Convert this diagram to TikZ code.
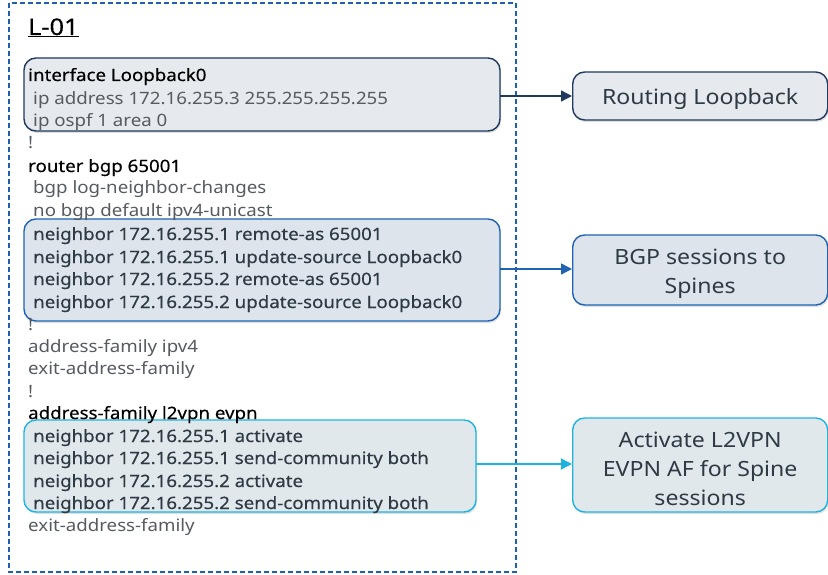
\documentclass[tikz,border=0pt]{standalone}
\usepackage{fontspec}
\setmainfont{Noto Sans}[FakeStretch=1.1]
\newfontfamily\medfont{Noto Sans}[FakeStretch=1.1,FakeBold=0.35]
\usetikzlibrary{shadows,arrows.meta}
\definecolor{dashblue}{HTML}{1F5FB0}
\definecolor{navy}{HTML}{1E3A5F}
\definecolor{midblue}{HTML}{1F63B3}
\definecolor{cyanb}{HTML}{1FB4E0}
\definecolor{fillA}{HTML}{E6E9ED}
\definecolor{fillB}{HTML}{DDE4EC}
\definecolor{fillC}{HTML}{E1E8EC}
\definecolor{txtgray}{HTML}{555B60}
\definecolor{txtdark}{HTML}{2E3A44}
\tikzset{
  cfg/.style={anchor=base west, inner sep=0pt, font=\fontsize{17}{19}\selectfont, text=txtgray},
  cfgk/.style={cfg, text=black, font=\medfont\fontsize{17}{19}\selectfont},
  cfgn/.style={cfg, text=txtdark, font=\medfont\fontsize{17}{19}\selectfont},
  hbox/.style={rounded corners=12pt, line width=1.4pt, drop shadow={opacity=0.25, shadow xshift=1pt, shadow yshift=-2pt}},
  rbox/.style={hbox, minimum width=255pt, anchor=west},
  rtxt/.style={align=center, inner sep=0pt, font=\fontsize{21}{29}\selectfont, text=txtdark},
  arr/.style={line width=1.4pt, -{Triangle[length=11pt,width=11pt]}}
}
\begin{document}
\begin{tikzpicture}[x=1pt,y=-1pt]
\useasboundingbox (0,0) rectangle (828,575);
% outer dashed frame
\draw[dashblue, line width=1.6pt, dash pattern=on 5pt off 3pt] (9,3) rectangle (516,572);
\node[anchor=base west, inner sep=0pt, font=\medfont\fontsize{23}{26}\selectfont] (title) at (28,35) {\underline{L-01}};
% highlight boxes
\draw[hbox, draw=navy, fill=fillA] (24,58) rectangle (500,131);
\coordinate (b1r) at (500,96);
\draw[hbox, draw=midblue, fill=fillB] (24,219) rectangle (500,321);
\coordinate (b2r) at (500,269);
\draw[hbox, draw=cyanb, fill=fillC] (24,420) rectangle (476,512);
\coordinate (b3r) at (476,464);
% config text
\node[cfgk] (t1) at (28,81) {interface Loopback0};
\node[cfg] (t2) at (33,105) {ip address 172.16.255.3 255.255.255.255};
\node[cfg] (t3) at (33,127) {ip ospf 1 area 0};
\node[cfg] (t4) at (28,149) {!};
\node[cfgk] (t5) at (28,172) {router bgp 65001};
\node[cfg] (t6) at (33,194) {bgp log-neighbor-changes};
\node[cfg] (t7) at (33,217) {no bgp default ipv4-unicast};
\node[cfgn] (t8) at (33,240) {neighbor 172.16.255.1 remote-as 65001};
\node[cfgn] (t9) at (33,263) {neighbor 172.16.255.1 update-source Loopback0};
\node[cfgn] (t10) at (33,285) {neighbor 172.16.255.2 remote-as 65001};
\node[cfgn] (t11) at (33,308) {neighbor 172.16.255.2 update-source Loopback0};
\node[cfg] (t12) at (28,330) {!};
\node[cfg] (t13) at (28,352) {address-family ipv4};
\node[cfg] (t14) at (28,374) {exit-address-family};
\node[cfg] (t15) at (28,397) {!};
\node[cfgk] (t16) at (28,419) {address-family l2vpn evpn};
\node[cfgn] (t17) at (33,442) {neighbor 172.16.255.1 activate};
\node[cfgn] (t18) at (33,464) {neighbor 172.16.255.1 send-community both};
\node[cfgn] (t19) at (33,487) {neighbor 172.16.255.2 activate};
\node[cfgn] (t20) at (33,509) {neighbor 172.16.255.2 send-community both};
\node[cfg] (t21) at (28,531) {exit-address-family};
% right boxes
\node[rbox, draw=navy, fill=fillA, minimum height=48pt] (r1) at (572,96) {};
\node[rtxt] (r1t) at ([yshift=-3pt]r1.center) {Routing Loopback};
\node[rbox, draw=midblue, fill=fillB, minimum height=70pt] (r2) at (572,270) {};
\node[rtxt] (r2t) at ([yshift=-4pt]r2.center) {BGP sessions to\\Spines};
\node[rbox, draw=cyanb, fill=fillC, minimum height=94pt] (r3) at (572,465) {};
\node[rtxt] (r3t) at ([yshift=-4pt]r3.center) {Activate L2VPN\\EVPN AF for Spine\\sessions};
% arrows
\draw[arr, navy] (b1r) -- (b1r -| r1.west);
\draw[arr, midblue] (b2r) -- (b2r -| r2.west);
\draw[arr, cyanb] (b3r) -- (b3r -| r3.west);
\end{tikzpicture}
\end{document}
